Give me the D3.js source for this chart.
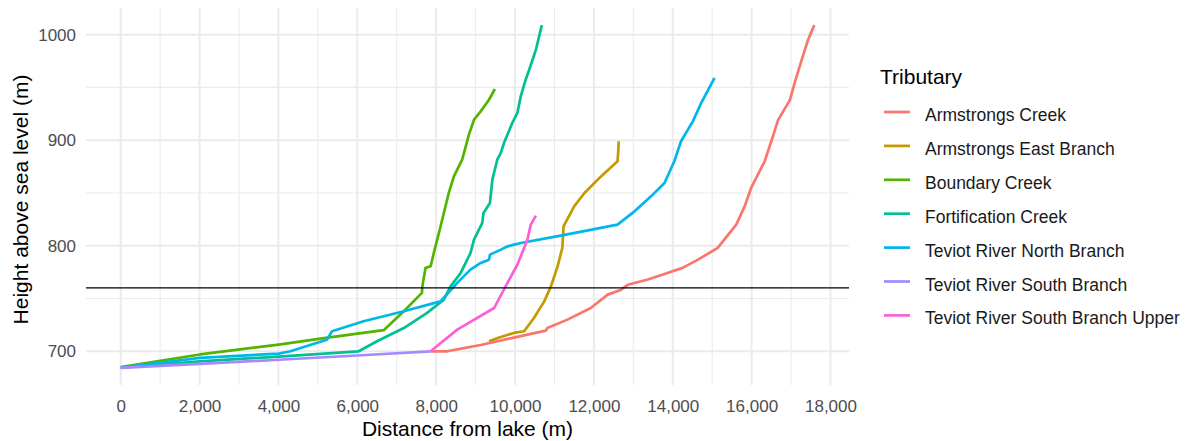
<!DOCTYPE html>
<html>
<head>
<meta charset="utf-8">
<script src="https://cdn.jsdelivr.net/npm/d3@7"></script>
<style>
  body { margin: 0; background: #fff; }
  text { font-family: "Liberation Sans", Arial, sans-serif; }
</style>
</head>
<body>
<script>
// tributary names (legend order) and their hue colours
var tributaries = ["Armstrongs Creek", "Armstrongs East Branch", "Boundary Creek",
    "Fortification Creek", "Teviot River North Branch", "Teviot River South Branch",
    "Teviot River South Branch Upper"];
var colours = ["#F8766D", "#C49A00", "#53B400", "#00C094", "#00B6EB", "#A58AFF", "#FB61D7"];

// [distance from lake (m), height (m)]
var armstrongsCreek = [[7860, 700], [8280, 700], [8700, 703], [9130, 706], [9970, 713],
    [10780, 719.6], [10820, 722], [11330, 730], [11920, 741], [12350, 753.7], [12690, 758.4],
    [12860, 763], [13370, 768], [13790, 773.3], [14250, 779], [14640, 786.8], [15140, 798],
    [15610, 820], [15820, 837], [15990, 855], [16330, 880], [16500, 899], [16670, 919],
    [16970, 938], [17090, 954], [17260, 975], [17430, 995], [17590, 1009]];
var armstrongsEast = [[9340, 709.5], [9600, 713], [9970, 717.4], [10230, 719], [10480, 731.6],
    [10740, 747.3], [10910, 761.5], [11080, 780.5], [11200, 798], [11230, 818.4], [11500, 837.3],
    [11760, 850], [12180, 865.7], [12600, 880], [12620, 891], [12630, 899]];
var boundaryCreek = [[0, 685], [2010, 697], [4010, 706.3], [5200, 712.7], [6670, 720],
    [7180, 738], [7640, 755.3], [7650, 761.5], [7730, 779], [7860, 780.5], [7940, 793],
    [8110, 818], [8320, 850], [8450, 865.7], [8660, 881.5], [8830, 905], [8960, 919.4],
    [9130, 927.3], [9340, 938.3], [9490, 948.5]];
var fortificationCreek = [[0, 684.5], [2010, 690.5], [4010, 695], [6035, 700], [6500, 709.5],
    [7180, 722], [7770, 736.4], [8195, 749], [8365, 761.5], [8620, 774], [8870, 793],
    [8960, 805.8], [9170, 821.6], [9200, 831], [9365, 840.5], [9425, 862.6], [9550, 881.5],
    [9640, 888], [9720, 897.3], [9930, 916.3], [10060, 925.8], [10145, 941.5], [10270, 957.3],
    [10360, 966.8], [10530, 985.7], [10680, 1009]];
var teviotNorth = [[0, 684.5], [2010, 693.7], [4010, 697.8], [4300, 700], [5230, 711],
    [5360, 719], [6160, 728.4], [7180, 737.9], [8110, 747.3], [8365, 757.8], [8535, 764.8],
    [8870, 777.4], [9130, 783.7], [9340, 786.8], [9365, 791.6], [9640, 796.3], [9810, 799.4],
    [10145, 802.6], [11160, 809.6], [12600, 820], [13030, 832.6], [13450, 846.8], [13790, 859.5],
    [14040, 880], [14210, 899], [14510, 917.8], [14720, 935.2], [15060, 959]];
var teviotSouth = [[0, 684.3], [2010, 688], [4010, 692], [5990, 696], [7860, 700]];
var teviotSouthUpper = [[7860, 700], [8535, 720.5], [9470, 741], [9760, 761.5], [10060, 782],
    [10315, 805.8], [10400, 820], [10530, 828.5]];

var seriesData = [armstrongsCreek, armstrongsEast, boundaryCreek, fortificationCreek,
    teviotNorth, teviotSouth, teviotSouthUpper];

var xTicks = [0, 2000, 4000, 6000, 8000, 10000, 12000, 14000, 16000, 18000];
var yTicks = [700, 800, 900, 1000];
var referenceHeight = 760;

var width = 1189, height = 441;
var panel = { left: 86, right: 849, top: 8, bottom: 385 };

var svg = d3.select("body").append("svg")
    .attr("width", width)
    .attr("height", height);

// ggplot style 5% expansion of the data range
var allPts = d3.merge(seriesData);
var xExt = d3.extent(allPts, function(d) { return d[0]; });
var yExt = d3.extent(allPts, function(d) { return d[1]; });
var xPad = (xExt[1] - xExt[0]) * 0.05, yPad = (yExt[1] - yExt[0]) * 0.05;

var x = d3.scaleLinear()
    .domain([xExt[0] - xPad, xExt[1] + xPad])
    .range([panel.left, panel.right]);
var y = d3.scaleLinear()
    .domain([yExt[0] - yPad, yExt[1] + yPad])
    .range([panel.bottom, panel.top]);

// grid lines, minor first
var grid = svg.append("g");
var xMinor = d3.range(1000, 19000, 2000).filter(function(v) { return v < x.domain()[1]; });
var yMinor = [750, 850, 950];

grid.selectAll(".xminor").data(xMinor).enter().append("line")
    .attr("x1", function(d) { return x(d); }).attr("x2", function(d) { return x(d); })
    .attr("y1", panel.top).attr("y2", panel.bottom)
    .attr("stroke", "#EBEBEB").attr("stroke-width", 1.1);
grid.selectAll(".yminor").data(yMinor).enter().append("line")
    .attr("x1", panel.left).attr("x2", panel.right)
    .attr("y1", function(d) { return y(d); }).attr("y2", function(d) { return y(d); })
    .attr("stroke", "#EBEBEB").attr("stroke-width", 1.1);
grid.selectAll(".xmajor").data(xTicks).enter().append("line")
    .attr("x1", function(d) { return x(d); }).attr("x2", function(d) { return x(d); })
    .attr("y1", panel.top).attr("y2", panel.bottom)
    .attr("stroke", "#EBEBEB").attr("stroke-width", 2);
grid.selectAll(".ymajor").data(yTicks).enter().append("line")
    .attr("x1", panel.left).attr("x2", panel.right)
    .attr("y1", function(d) { return y(d); }).attr("y2", function(d) { return y(d); })
    .attr("stroke", "#EBEBEB").attr("stroke-width", 2);

// axes (no domain line, no ticks, grey labels)
var xAxis = svg.append("g")
    .attr("transform", "translate(0," + panel.bottom + ")")
    .call(d3.axisBottom(x).tickValues(xTicks).tickSize(0).tickPadding(15)
        .tickFormat(d3.format(",")));
var yAxis = svg.append("g")
    .attr("transform", "translate(" + panel.left + ",0)")
    .call(d3.axisLeft(y).tickValues(yTicks).tickSize(0).tickPadding(10)
        .tickFormat(d3.format("d")));
[xAxis, yAxis].forEach(function(a) {
    a.select(".domain").remove();
    a.selectAll("text")
        .attr("fill", "#4D4D4D")
        .style("font-size", "17px")
        .style("font-family", "'Liberation Sans', Arial, sans-serif");
});

// tributary lines
var line = d3.line()
    .x(function(d) { return x(d[0]); })
    .y(function(d) { return y(d[1]); });

svg.append("g").selectAll("path")
    .data(seriesData)
    .enter().append("path")
    .attr("d", line)
    .attr("fill", "none")
    .attr("stroke", function(d, i) { return colours[i]; })
    .attr("stroke-width", 2.7)
    .attr("stroke-linejoin", "round")
    .attr("stroke-linecap", "butt");

// reference height line
svg.append("line")
    .attr("x1", panel.left).attr("x2", panel.right)
    .attr("y1", y(referenceHeight)).attr("y2", y(referenceHeight))
    .attr("stroke", "#000").attr("stroke-width", 1.2);

// axis titles
svg.append("text")
    .attr("x", (panel.left + panel.right) / 2)
    .attr("y", 436)
    .attr("text-anchor", "middle")
    .style("font-size", "21px")
    .text("Distance from lake (m)");
svg.append("text")
    .attr("transform", "translate(28," + ((panel.top + panel.bottom) / 2 + 3) + ") rotate(-90)")
    .attr("text-anchor", "middle")
    .style("font-size", "21px")
    .text("Height above sea level (m)");

// legend
var legend = svg.append("g").attr("transform", "translate(880,0)");
legend.append("text")
    .attr("x", 0).attr("y", 84)
    .style("font-size", "21px")
    .text("Tributary");

var items = legend.selectAll(".item")
    .data(tributaries)
    .enter().append("g")
    .attr("transform", function(d, i) { return "translate(0," + (112 + i * 33.9) + ")"; });
items.append("line")
    .attr("x1", 4).attr("x2", 30)
    .attr("stroke", function(d, i) { return colours[i]; })
    .attr("stroke-width", 2.7);
items.append("text")
    .attr("x", 45).attr("y", 9)
    .style("font-size", "17.5px")
    .attr("fill", "#1A1A1A")
    .text(function(d) { return d; });
</script>
</body>
</html>
